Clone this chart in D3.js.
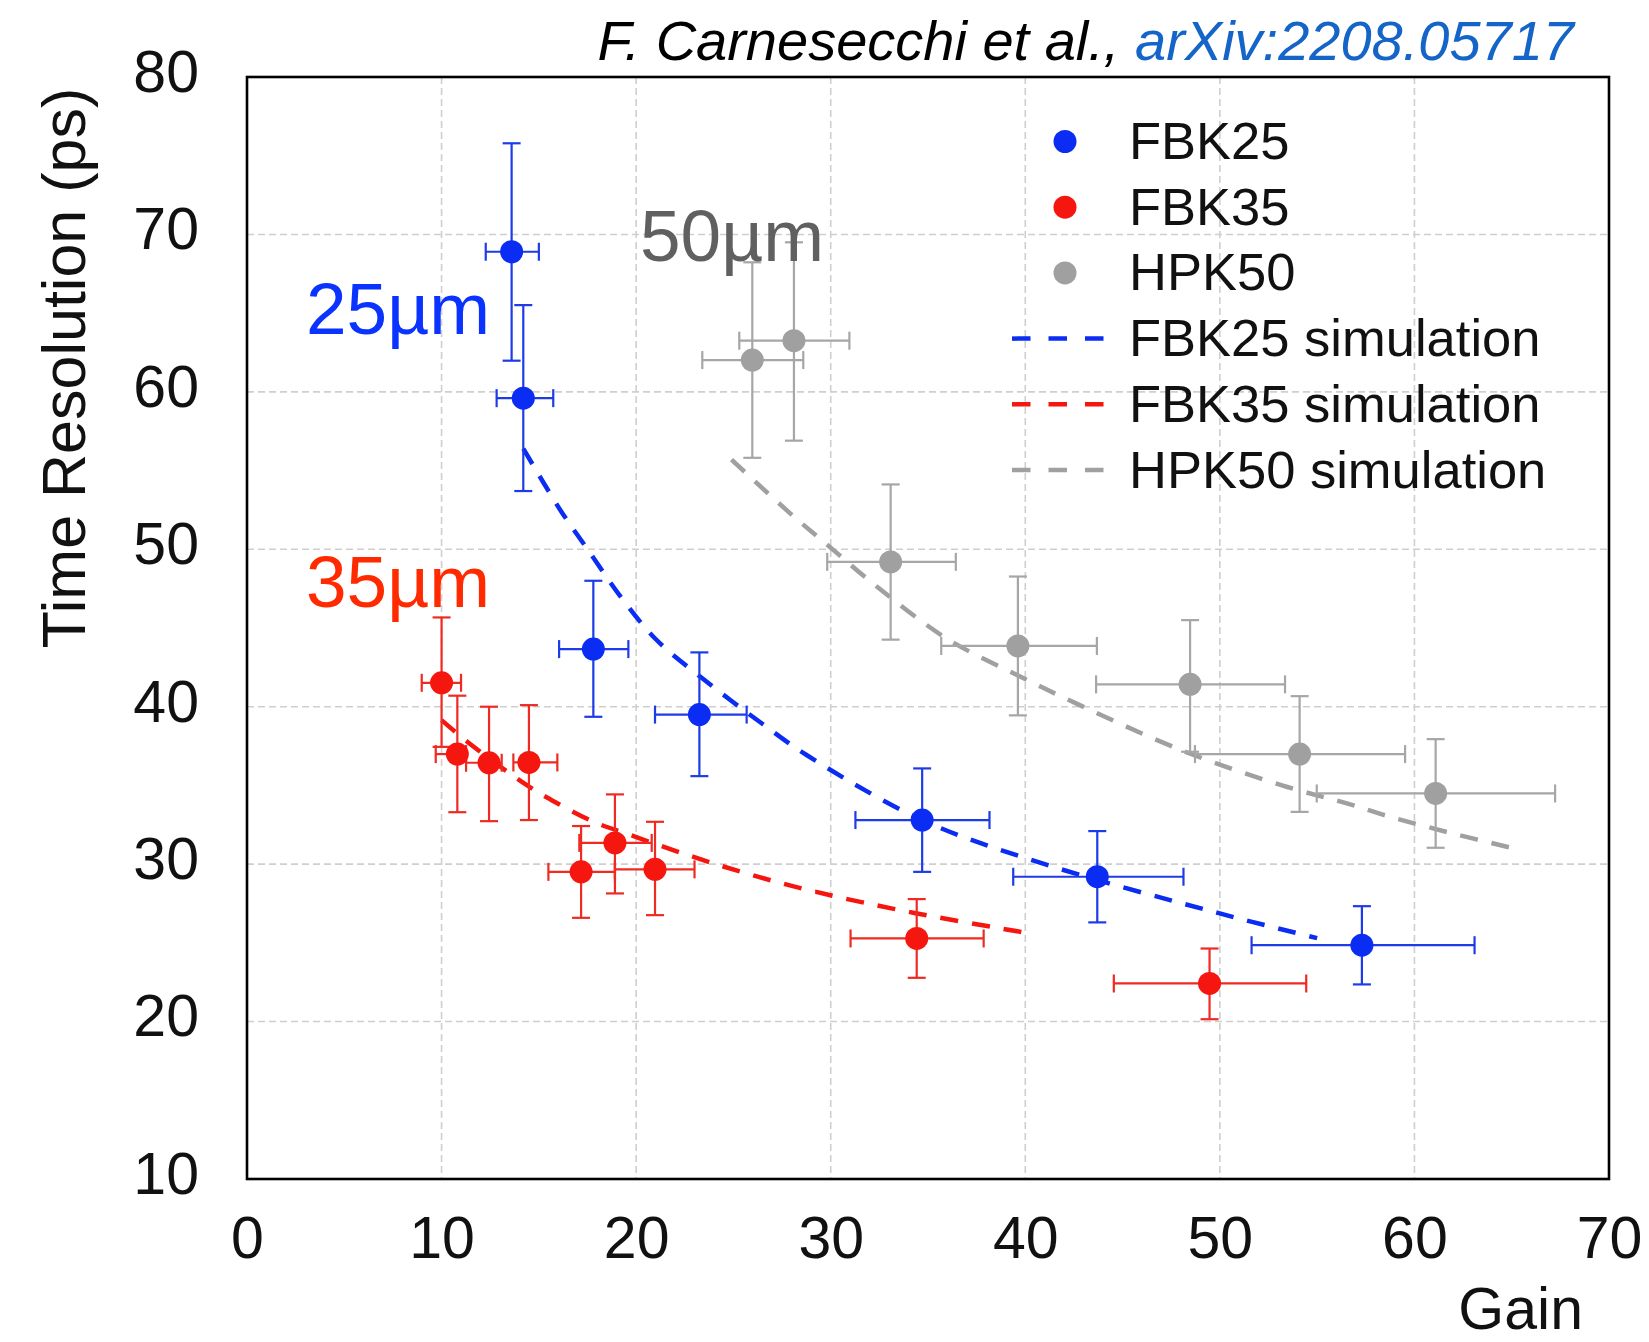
<!DOCTYPE html>
<html>
<head>
<meta charset="utf-8">
<script src="https://cdn.jsdelivr.net/npm/d3@7"></script>
<style>
  html, body { margin: 0; padding: 0; background: #fff; }
  svg { display: block; }
  text { font-family: "Liberation Sans", Arial, Helvetica, sans-serif; }
</style>
</head>
<body>
<svg id="chart" width="1649" height="1342"></svg>
<script>
// ---------- data ----------
const xTicks = [0, 10, 20, 30, 40, 50, 60, 70];
const yTicks = [10, 20, 30, 40, 50, 60, 70, 80];

const fbk25Gain   = [13.6, 14.2, 17.8, 23.25, 34.7, 43.7, 57.3];
const fbk25Res    = [68.9, 59.6, 43.66, 39.5, 32.8, 29.2, 24.85];
const fbk25GainLo = [12.27, 12.83, 16.04, 20.97, 31.27, 39.38, 51.63];
const fbk25GainHi = [15.0, 15.74, 19.6, 25.68, 38.16, 48.13, 63.09];
const fbk25ResLo  = [61.98, 53.7, 39.36, 35.59, 29.51, 26.3, 22.36];
const fbk25ResHi  = [75.79, 65.51, 48.0, 43.45, 36.08, 32.1, 27.33];

const fbk35Gain   = [10.0, 10.81, 12.44, 14.49, 17.17, 18.91, 20.97, 34.42, 49.47];
const fbk35Res    = [41.52, 36.99, 36.44, 36.46, 29.51, 31.35, 29.67, 25.28, 22.42];
const fbk35GainLo = [8.98, 9.7, 11.26, 13.69, 15.49, 17.08, 18.91, 31.02, 44.55];
const fbk35GainHi = [11.0, 11.26, 13.09, 15.95, 18.91, 20.8, 23.0, 37.86, 54.44];
const fbk35ResLo  = [37.45, 33.3, 32.73, 32.8, 26.59, 28.14, 26.76, 22.78, 20.15];
const fbk35ResHi  = [45.67, 40.7, 40.0, 40.1, 32.42, 34.43, 32.69, 27.78, 24.64];

const hpk50Gain   = [25.97, 28.11, 33.08, 39.62, 48.47, 54.1, 61.09];
const hpk50Res    = [62.02, 63.25, 49.2, 43.86, 41.42, 36.99, 34.49];
const hpk50GainLo = [23.4, 25.3, 29.82, 35.68, 43.64, 48.72, 54.98];
const hpk50GainHi = [28.59, 30.96, 36.43, 43.68, 53.35, 59.52, 67.23];
const hpk50ResLo  = [55.81, 56.9, 44.26, 39.45, 37.14, 33.32, 31.04];
const hpk50ResHi  = [68.23, 69.5, 54.12, 48.27, 45.5, 40.67, 37.94];

const fbk25SimGain = [14.2, 16.1, 17.5, 19.2, 21.0, 23.3, 26.5, 28.8, 34.7, 41.0, 49.9, 55.0];
const fbk25SimRes  = [56.4, 52.5, 50.0, 47.0, 44.3, 41.9, 38.9, 36.9, 32.8, 30.0, 26.9, 25.3];
const fbk35SimGain = [10.0, 11.4, 14.4, 15.9, 17.8, 19.7, 22.6, 25.7, 29.2, 34.3, 40.0];
const fbk35SimRes  = [39.15, 37.7, 35.0, 33.9, 32.7, 31.85, 30.6, 29.4, 28.25, 26.9, 25.65];
const hpk50SimGain = [24.9, 27.9, 30.0, 32.4, 36.0, 39.6, 42.8, 48.1, 53.2, 56.7, 58.5, 61.8, 65.1];
const hpk50SimRes  = [55.7, 52.3, 50.1, 47.6, 44.3, 42.0, 40.1, 37.2, 35.0, 33.8, 33.1, 32.0, 31.0];

const legendLabels = ["FBK25", "FBK35", "HPK50", "FBK25 simulation", "FBK35 simulation", "HPK50 simulation"];
const annotations = ["25µm", "35µm", "50µm"];
const xTitle = "Gain";
const yTitle = "Time Resolution (ps)";
const creditText = "F. Carnesecchi et al., ";
const creditLink = "arXiv:2208.05717";

// ---------- layout ----------
const C = {
  blue: "#0b2cf2", red: "#f5170f", gray: "#a0a0a0",
  blueBar: "#1d3be6", redBar: "#ee2a22", grayBar: "#a6a6a6",
  blueTxt: "#0a33ff", redTxt: "#ff2a00", grayTxt: "#606060",
  link: "#1565c8", grid: "#cfcfcf"
};
const L = 247, R = 1609, T = 77, B = 1179;

const svg = d3.select("#chart");
const x = d3.scaleLinear().domain([0, 70]).range([L, R]);
const y = d3.scaleLinear().domain([10, 80]).range([B, T]);

// grid
const grid = svg.append("g");
grid.selectAll(".gx").data(xTicks.filter(t => t > 0 && t < 70)).join("line")
  .attr("x1", d => x(d)).attr("x2", d => x(d)).attr("y1", T).attr("y2", B)
  .attr("stroke", C.grid).attr("stroke-width", 1.6).attr("stroke-dasharray", "7,4");
grid.selectAll(".gy").data(yTicks.filter(t => t > 10 && t < 80)).join("line")
  .attr("x1", L).attr("x2", R).attr("y1", d => y(d)).attr("y2", d => y(d))
  .attr("stroke", C.grid).attr("stroke-width", 1.6).attr("stroke-dasharray", "7,4");

// axes
const xAxis = svg.append("g").attr("transform", `translate(0,${B})`)
  .call(d3.axisBottom(x).tickValues(xTicks).tickSize(0).tickPadding(37).tickFormat(d3.format("d")));
const yAxis = svg.append("g").attr("transform", `translate(${L},0)`)
  .call(d3.axisLeft(y).tickValues(yTicks).tickSize(0).tickPadding(48).tickFormat(d3.format("d")));
[xAxis, yAxis].forEach(a => {
  a.select(".domain").remove();
  a.selectAll("text").attr("font-size", 59).attr("fill", "#111")
    .style("font-family", "'Liberation Sans', Arial, sans-serif");
});
yAxis.selectAll("text").attr("dy", "0.31em").attr("transform", "translate(0,-4)");

// axis titles
svg.append("text").attr("x", 1583).attr("y", 1329).attr("text-anchor", "end")
  .attr("font-size", 59).attr("fill", "#111").text(xTitle);
svg.append("text").attr("transform", `translate(85,${368}) rotate(-90)`)
  .attr("text-anchor", "middle").attr("font-size", 61).attr("fill", "#111").text(yTitle);

// credit
const cred = svg.append("text").attr("x", 1574).attr("y", 60).attr("text-anchor", "end")
  .attr("font-size", 56).attr("font-style", "italic");
cred.append("tspan").attr("fill", "#000").text(creditText);
cred.append("tspan").attr("fill", C.link).text(creditLink);

// simulation lines
const line = d3.line().x(d => x(d[0])).y(d => y(d[1])).curve(d3.curveCatmullRom.alpha(0.5));
const sims = [
  [fbk25SimGain, fbk25SimRes, C.blue],
  [fbk35SimGain, fbk35SimRes, C.red],
  [hpk50SimGain, hpk50SimRes, C.gray]
];
sims.forEach(([gx, ry, col]) => {
  svg.append("path").datum(gx.map((g, i) => [g, ry[i]]))
    .attr("d", line).attr("fill", "none").attr("stroke", col)
    .attr("stroke-width", 4.5).attr("stroke-dasharray", "18,14");
});

// data series with error bars
const series = [
  [hpk50Gain, hpk50Res, hpk50GainLo, hpk50GainHi, hpk50ResLo, hpk50ResHi, C.gray, C.grayBar],
  [fbk35Gain, fbk35Res, fbk35GainLo, fbk35GainHi, fbk35ResLo, fbk35ResHi, C.red, C.redBar],
  [fbk25Gain, fbk25Res, fbk25GainLo, fbk25GainHi, fbk25ResLo, fbk25ResHi, C.blue, C.blueBar]
];
const CAP = 9;
series.forEach(([gx, ry, gl, gh, rl, rh, col, bar]) => {
  const pts = gx.map((g, i) => ({ g, r: ry[i], gl: gl[i], gh: gh[i], rl: rl[i], rh: rh[i] }));
  const eg = svg.append("g").attr("stroke", bar).attr("stroke-width", 2.2).attr("fill", "none");
  pts.forEach(p => {
    eg.append("line").attr("x1", x(p.gl)).attr("x2", x(p.gh)).attr("y1", y(p.r)).attr("y2", y(p.r));
    eg.append("line").attr("x1", x(p.g)).attr("x2", x(p.g)).attr("y1", y(p.rl)).attr("y2", y(p.rh));
    eg.append("line").attr("x1", x(p.gl)).attr("x2", x(p.gl)).attr("y1", y(p.r) - CAP).attr("y2", y(p.r) + CAP);
    eg.append("line").attr("x1", x(p.gh)).attr("x2", x(p.gh)).attr("y1", y(p.r) - CAP).attr("y2", y(p.r) + CAP);
    eg.append("line").attr("x1", x(p.g) - CAP).attr("x2", x(p.g) + CAP).attr("y1", y(p.rl)).attr("y2", y(p.rl));
    eg.append("line").attr("x1", x(p.g) - CAP).attr("x2", x(p.g) + CAP).attr("y1", y(p.rh)).attr("y2", y(p.rh));
  });
  svg.append("g").selectAll("circle").data(pts).join("circle")
    .attr("cx", d => x(d.g)).attr("cy", d => y(d.r)).attr("r", 11.5).attr("fill", col);
});

// frame
svg.append("rect").attr("x", L).attr("y", T).attr("width", R - L).attr("height", B - T)
  .attr("fill", "none").attr("stroke", "#000").attr("stroke-width", 2.6);

// annotations
const annPos = [[306, 334, C.blueTxt], [306, 607, C.redTxt], [640, 261, C.grayTxt]];
annotations.forEach((t, i) => {
  svg.append("text").attr("x", annPos[i][0]).attr("y", annPos[i][1])
    .attr("font-size", 73).attr("fill", annPos[i][2]).text(t);
});

// legend
const legCols = [C.blue, C.red, C.gray, C.blue, C.red, C.gray];
const leg = svg.append("g");
legendLabels.forEach((lab, i) => {
  const cy = 141.5 + i * 65.7;
  if (i < 3) {
    leg.append("circle").attr("cx", 1065).attr("cy", cy).attr("r", 11.5).attr("fill", legCols[i]);
  } else {
    leg.append("line").attr("x1", 1012).attr("x2", 1104).attr("y1", cy).attr("y2", cy)
      .attr("stroke", legCols[i]).attr("stroke-width", 4.5).attr("stroke-dasharray", "18.5,18");
  }
  leg.append("text").attr("x", 1129).attr("y", cy + 17.5).attr("font-size", 52.5)
    .attr("fill", "#111").text(lab);
});
</script>
</body>
</html>
